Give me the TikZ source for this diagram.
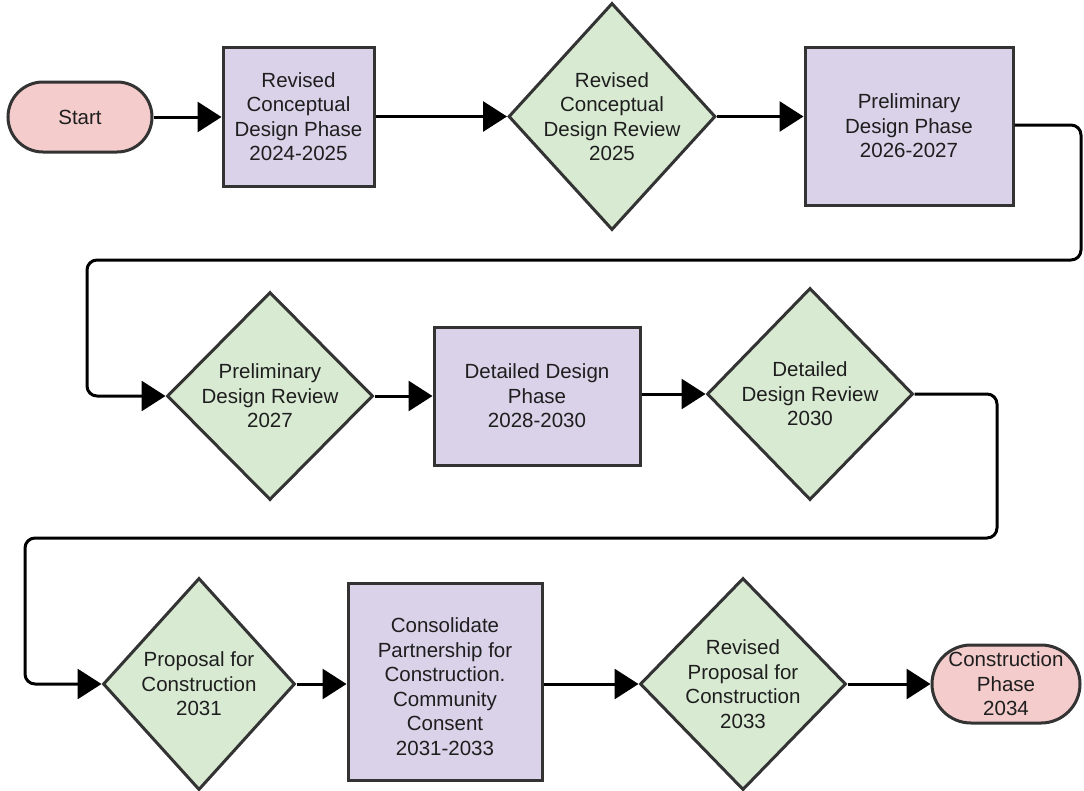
\documentclass[tikz,border=0pt]{standalone}
\usepackage{fontspec}
\setmainfont{Liberation Sans}
\usetikzlibrary{arrows.meta,shapes.geometric}
\definecolor{termfill}{HTML}{F4CCCC}
\definecolor{phasefill}{HTML}{D9D2E9}
\definecolor{reviewfill}{HTML}{D9EAD3}
\definecolor{edge}{HTML}{333333}
\definecolor{ink}{HTML}{1E1E1E}
\begin{document}
\begin{tikzpicture}[x=1pt,y=-1pt,
  label text/.style={font=\fontsize{20.5}{24.5}\selectfont, align=center, text=ink, inner sep=0pt},
  shapebase/.style={draw=edge, line width=3pt, label text},
  terminal/.style={shapebase, fill=termfill, rectangle, rounded corners=35pt},
  phase/.style={shapebase, fill=phasefill, rectangle},
  review/.style={shapebase, fill=reviewfill, diamond},
  flow/.style={line width=3pt, draw=black, rounded corners=10pt,
    -{Triangle[length=24pt,width=30pt]}}]
\useasboundingbox (0,0) rectangle (1084,790);

% row 1
\node[terminal, minimum width=144pt, minimum height=70pt] (start) at (80,117) {Start};
\node[phase, minimum width=151pt, minimum height=139pt] (cdp) at (298.5,116.5)
  {Revised\\Conceptual\\Design Phase\\2024-2025};
\node[review, minimum width=207pt, minimum height=227pt] (cdr) at (612,116.5) {};
\node[label text] at (cdr) {Revised\\Conceptual\\Design Review\\2025};
\node[phase, minimum width=208pt, minimum height=158pt] (pdp) at (909,126)
  {Preliminary\\Design Phase\\2026-2027};

% row 2
\node[review, minimum width=206pt, minimum height=208pt] (pdr) at (270,396) {};
\node[label text] at (pdr) {Preliminary\\Design Review\\2027};
\node[phase, minimum width=206pt, minimum height=138pt] (ddp) at (537,396)
  {Detailed Design\\Phase\\2028-2030};
\node[review, minimum width=206pt, minimum height=212pt] (ddr) at (810,394) {};
\node[label text] at (ddr) {Detailed\\Design Review\\2030};

% row 3
\node[review, minimum width=192pt, minimum height=212pt] (pfc) at (199,684) {};
\node[label text] at (pfc) {Proposal for\\Construction\\2031};
\node[phase, minimum width=194pt, minimum height=197pt] (cpc) at (445,681.5) {};
\node[label text] at ([yshift=-5pt]cpc.center)
  {Consolidate\\Partnership for\\Construction.\\Community\\Consent\\2031-2033};
\node[review, minimum width=206pt, minimum height=212pt] (rpc) at (743,684) {};
\node[label text] at (rpc) {Revised\\Proposal for\\Construction\\2033};
\node[terminal, rounded corners=39pt, minimum width=148pt, minimum height=78pt] (cons) at (1006,684)
  {Construction\\Phase\\2034};

% turn points of the wrap-around connectors
\coordinate (wrapA) at (1081,260);
\coordinate (wrapB) at (87,260);
\coordinate (wrapC) at (997,538);
\coordinate (wrapD) at (25,538);

% connectors
\draw[flow] (start.east) -- (start.east -| cdp.west);
\draw[flow] (cdp.east |- cdr.west) -- (cdr.west);
\draw[flow] (cdr.east) -- (cdr.east -| pdp.west);
\draw[flow] ([yshift=1pt]pdp.east) -| (wrapA) -- (wrapB) |- (pdr.west);
\draw[flow] (pdr.east) -- (pdr.east -| ddp.west);
\draw[flow] (ddp.east |- ddr.west) -- (ddr.west);
\draw[flow] (ddr.east) -| (wrapC) -- (wrapD) |- (pfc.west);
\draw[flow] (pfc.east) -- (pfc.east -| cpc.west);
\draw[flow] (cpc.east |- rpc.west) -- (rpc.west);
\draw[flow] (rpc.east) -- (rpc.east -| cons.west);
\end{tikzpicture}
\end{document}
